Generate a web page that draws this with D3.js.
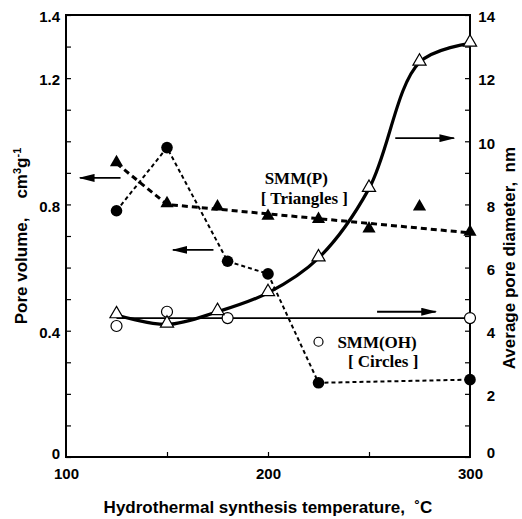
<!DOCTYPE html>
<html>
<head>
<meta charset="utf-8">
<style>
    body { margin: 0; background: #fff; }
    svg { display: block; }
    .tick text { font-family: "Liberation Sans", Arial, sans-serif; font-weight: bold; font-size: 15px; fill: #000; }
    .tick line { stroke: #000; stroke-width: 1.2; }
    .axis-label { font-family: "Liberation Sans", Arial, sans-serif; font-weight: bold; font-size: 17px; }
    .note { font-family: "Liberation Serif", "Times New Roman", serif; font-weight: bold; font-size: 17px; }
</style>
</head>
<body>
<svg width="522" height="519"></svg>
<script src="https://cdnjs.cloudflare.com/ajax/libs/d3/7.8.5/d3.min.js"></script>
<script>
// SMM(OH) pore volume (filled circles, left axis)
let ohVolT = [125, 150, 180, 200, 225, 300]
let ohVol = [0.78, 0.98, 0.62, 0.58, 0.235, 0.245]

// SMM(P) pore volume (filled triangles, left axis) + its dashed trend
let pVolT = [125, 150, 175, 200, 225, 250, 275, 300]
let pVol = [0.93, 0.80, 0.79, 0.76, 0.75, 0.72, 0.79, 0.71]
let pTrendT = [125, 150, 300]
let pTrend = [0.93, 0.80, 0.71]

// SMM(P) pore diameter (open triangles, right axis)
let pDiaT = [125, 150, 175, 200, 225, 250, 275, 300]
let pDia = [4.5, 4.2, 4.6, 5.2, 6.3, 8.5, 12.5, 13.1]

// SMM(OH) pore diameter (open circles, right axis) + flat line
let ohDiaT = [125, 150, 180, 300]
let ohDia = [4.15, 4.6, 4.4, 4.4]
let ohLineT = [125, 300]
let ohLine = [4.4, 4.4]

// ticks
let xLabels = [100, 200, 300]
let xTicks = [150, 200, 250]
let leftLabels = [0, 0.4, 0.8, 1.2, 1.4]
let leftTicks = d3.range(0, 15).map(i => i / 10)
let rightLabels = [0, 2, 4, 6, 8, 10, 12, 14]
let rightTicks = d3.range(0, 15)

// arrows: [x from, x to, value, axis]
let arrows = [
    [127, 107, 0.884, "left"],
    [173, 153, 0.656, "left"],
    [263, 292, 10.1, "right"],
    [254, 283, 4.6, "right"]
]

let svg = d3.select("svg")
let margin = { top: 15, right: 52, bottom: 62, left: 66 }
let width = 522, height = 519

let x = d3.scaleLinear().domain([100, 300]).range([margin.left, width - margin.right])
let yL = d3.scaleLinear().domain([0, 1.4]).range([height - margin.bottom, margin.top])
let yR = d3.scaleLinear().domain([0, 14]).range([height - margin.bottom, margin.top])

let bottom = height - margin.bottom

// ticks (inward)
svg.append("g").attr("transform", `translate(0,${bottom})`)
    .call(d3.axisBottom(x).tickValues(xTicks).tickSize(-5).tickFormat(""))
    .call(g => g.select(".domain").remove())
svg.append("g").attr("transform", `translate(0,${bottom})`)
    .call(d3.axisBottom(x).tickValues(xLabels).tickSize(0).tickPadding(11).tickFormat(d3.format("d")))
    .call(g => g.select(".domain").remove())

svg.append("g").attr("transform", `translate(${margin.left},0)`)
    .call(d3.axisLeft(yL).tickValues(leftTicks).tickSize(-5).tickFormat(""))
    .call(g => g.select(".domain").remove())
svg.append("g").attr("transform", `translate(${margin.left},0)`)
    .call(d3.axisLeft(yL).tickValues(leftLabels).tickSize(0).tickPadding(6).tickFormat(d => d == 0 ? "0" : d3.format(".1f")(d)))
    .call(g => g.select(".domain").remove())
    .call(g => g.selectAll(".tick text").attr("dy", d => d == 0 ? "0.1em" : "0.45em"))

svg.append("g").attr("transform", `translate(${width - margin.right},0)`)
    .call(d3.axisRight(yR).tickValues(rightTicks).tickSize(-5).tickFormat(""))
    .call(g => g.select(".domain").remove())
svg.append("g").attr("transform", `translate(${width - margin.right},0)`)
    .call(d3.axisRight(yR).tickValues(rightLabels).tickSize(0).tickPadding(7).tickFormat(d3.format("d")))
    .call(g => g.select(".domain").remove())
    .call(g => g.selectAll(".tick text").attr("text-anchor", "end").attr("x", 25)
        .attr("dy", d => d == 0 ? "0em" : "0.45em"))

// frame
svg.append("rect")
    .attr("x", margin.left).attr("y", margin.top)
    .attr("width", x(300) - x(100)).attr("height", bottom - margin.top)
    .attr("fill", "none").attr("stroke", "#000").attr("stroke-width", 2)

// lines
let zipL = (ts, vs) => ts.map((t, i) => [x(t), yL(vs[i])])
let zipR = (ts, vs) => ts.map((t, i) => [x(t), yR(vs[i])])
let line = d3.line()

svg.append("path").attr("d", line(zipR(ohLineT, ohLine)))
    .attr("fill", "none").attr("stroke", "#000").attr("stroke-width", 1.6)

svg.append("path").attr("d", line.curve(d3.curveCatmullRom.alpha(0.5))(zipR(pDiaT, pDia)))
    .attr("fill", "none").attr("stroke", "#000").attr("stroke-width", 3.2)
line.curve(d3.curveLinear)

svg.append("path").attr("d", line(zipL(ohVolT, ohVol)))
    .attr("fill", "none").attr("stroke", "#000").attr("stroke-width", 2)
    .attr("stroke-dasharray", "4,3")

svg.append("path").attr("d", line(zipL(pTrendT, pTrend)))
    .attr("fill", "none").attr("stroke", "#000").attr("stroke-width", 3)
    .attr("stroke-dasharray", "6,4")

// markers
let tri = d3.symbol().type(d3.symbolTriangle).size(75)

svg.append("g").selectAll("circle").data(zipR(ohDiaT, ohDia)).join("circle")
    .attr("cx", d => d[0]).attr("cy", d => d[1]).attr("r", 5.5)
    .attr("fill", "#fff").attr("stroke", "#000").attr("stroke-width", 1.2)

svg.append("g").selectAll("path").data(zipR(pDiaT, pDia)).join("path")
    .attr("d", tri).attr("transform", d => `translate(${d[0]},${d[1] - 1})`)
    .attr("fill", "#fff").attr("stroke", "#000").attr("stroke-width", 1.2)

svg.append("g").selectAll("circle").data(zipL(ohVolT, ohVol)).join("circle")
    .attr("cx", d => d[0]).attr("cy", d => d[1]).attr("r", 5.8).attr("fill", "#000")

svg.append("g").selectAll("path").data(zipL(pVolT, pVol)).join("path")
    .attr("d", tri).attr("transform", d => `translate(${d[0]},${d[1] - 1})`)
    .attr("fill", "#000")

// arrows
svg.append("defs").append("marker")
    .attr("id", "head").attr("viewBox", "0 0 10 10").attr("refX", 9).attr("refY", 5)
    .attr("markerUnits", "userSpaceOnUse").attr("markerWidth", 16).attr("markerHeight", 8)
    .attr("preserveAspectRatio", "none")
    .attr("orient", "auto")
    .append("path").attr("d", "M0,0L10,5L0,10Z").attr("fill", "#000")

svg.append("g").selectAll("line").data(arrows).join("line")
    .attr("x1", d => x(d[0])).attr("x2", d => x(d[1]))
    .attr("y1", d => (d[3] == "left" ? yL : yR)(d[2]))
    .attr("y2", d => (d[3] == "left" ? yL : yR)(d[2]))
    .attr("stroke", "#000").attr("stroke-width", 1.8)
    .attr("marker-end", "url(#head)")

// notes
svg.append("text").attr("class", "note").attr("x", x(214)).attr("y", yR(8.65))
    .attr("text-anchor", "middle").text("SMM(P)")
svg.append("text").attr("class", "note").attr("x", x(218)).attr("y", yR(8.0))
    .attr("text-anchor", "middle").text("[ Triangles ]")

svg.append("circle").attr("cx", x(225)).attr("cy", yR(3.65)).attr("r", 4.5)
    .attr("fill", "#fff").attr("stroke", "#000").attr("stroke-width", 1.2)
svg.append("text").attr("class", "note").attr("x", x(254)).attr("y", yR(3.45))
    .attr("text-anchor", "middle").text("SMM(OH)")
svg.append("text").attr("class", "note").attr("x", x(257)).attr("y", yR(2.85))
    .attr("text-anchor", "middle").text("[ Circles ]")

// axis titles
svg.append("text").attr("class", "axis-label")
    .attr("x", x(200)).attr("y", 513).attr("text-anchor", "middle")
    .attr("xml:space", "preserve")
    .text("Hydrothermal synthesis temperature,  ˚C")

let lt = svg.append("text").attr("class", "axis-label")
    .attr("transform", `translate(27,${yL(0.7)}) rotate(-90)`)
    .attr("text-anchor", "middle").attr("xml:space", "preserve")
lt.append("tspan").text("Pore volume,    cm")
lt.append("tspan").attr("dy", -6).attr("font-size", 11).text("3")
lt.append("tspan").attr("dy", 6).text("g")
lt.append("tspan").attr("dy", -6).attr("font-size", 11).text("-1")

svg.append("text").attr("class", "axis-label")
    .attr("transform", `translate(515,${yR(6.3)}) rotate(-90)`)
    .attr("text-anchor", "middle").attr("xml:space", "preserve")
    .text("Average pore diameter,  nm")
</script>
</body>
</html>
